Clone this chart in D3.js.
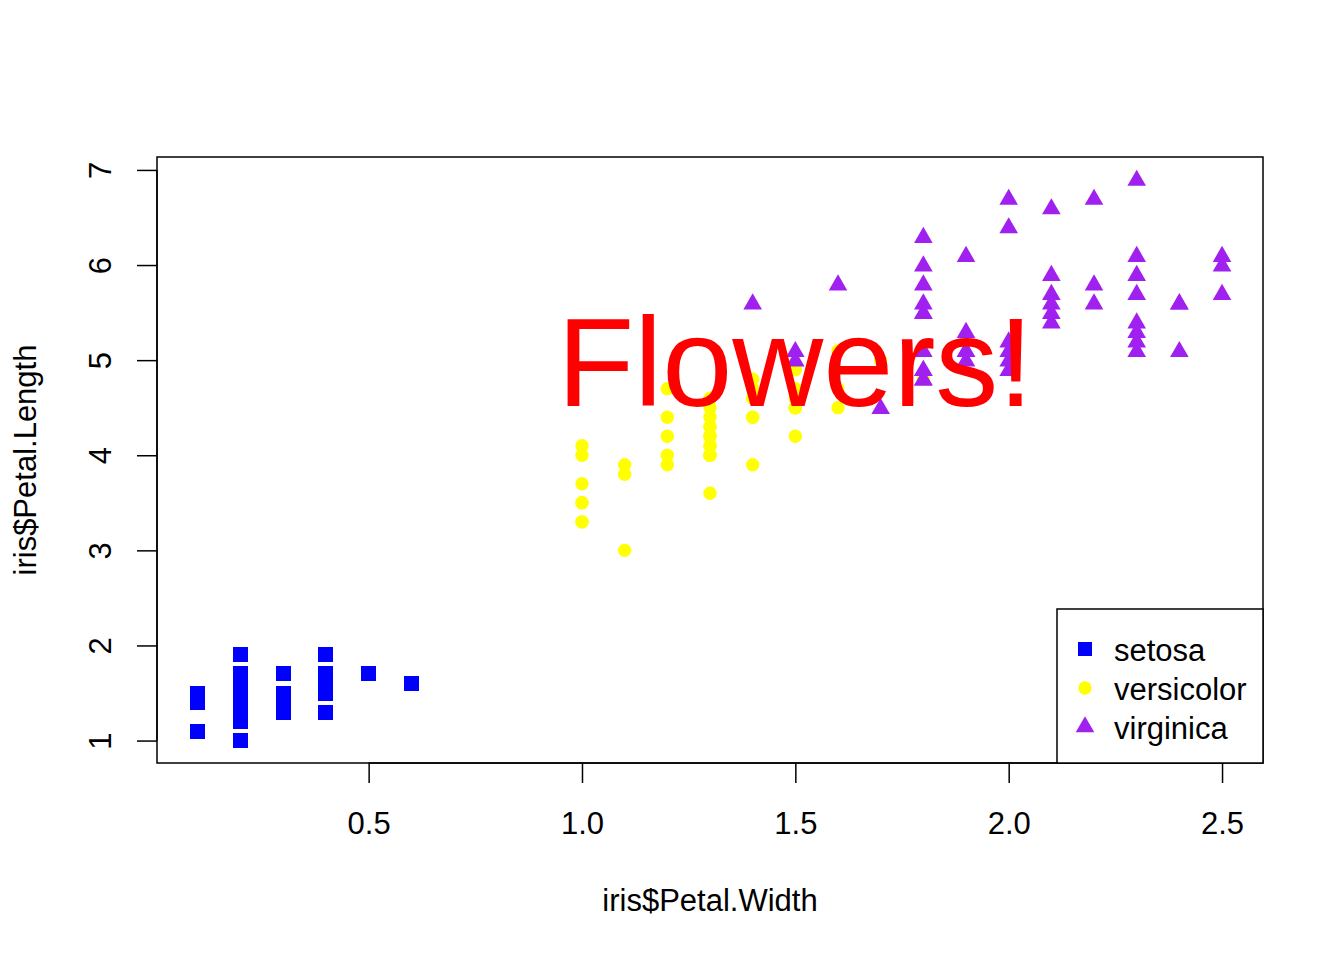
<!DOCTYPE html>
<html>
<head>
<meta charset="utf-8">
<script src="https://cdn.jsdelivr.net/npm/d3@7"></script>
<style>
  body { margin: 0; background: #fff; }
  text { font-family: "Liberation Sans", Arial, sans-serif; }
</style>
</head>
<body>
<div id="chart"></div>
<script>
// iris petal measurements, by species
const species = ['setosa', 'versicolor', 'virginica'];
const speciesColors = ['#0000FF', '#FFFF00', '#A020F0'];

const setosaLength = [1.4,1.4,1.3,1.5,1.4,1.7,1.4,1.5,1.4,1.5,1.5,1.6,1.4,1.1,1.2,1.5,1.3,1.4,1.7,1.5,1.7,1.5,1.0,1.7,1.9,1.6,1.6,1.5,1.4,1.6,1.6,1.5,1.5,1.4,1.5,1.2,1.3,1.4,1.3,1.5,1.3,1.3,1.3,1.6,1.9,1.4,1.6,1.4,1.5,1.4];
const setosaWidth = [0.2,0.2,0.2,0.2,0.2,0.4,0.3,0.2,0.2,0.1,0.2,0.2,0.1,0.1,0.2,0.4,0.4,0.3,0.3,0.3,0.2,0.4,0.2,0.5,0.2,0.2,0.4,0.2,0.2,0.2,0.2,0.4,0.1,0.2,0.2,0.2,0.2,0.1,0.2,0.2,0.3,0.3,0.2,0.6,0.4,0.3,0.2,0.2,0.2,0.2];

const versicolorLength = [4.7,4.5,4.9,4.0,4.6,4.5,4.7,3.3,4.6,3.9,3.5,4.2,4.0,4.7,3.6,4.4,4.5,4.1,4.5,3.9,4.8,4.0,4.9,4.7,4.3,4.4,4.8,5.0,4.5,3.5,3.8,3.7,3.9,5.1,4.5,4.5,4.7,4.4,4.1,4.0,4.4,4.6,4.0,3.3,4.2,4.2,4.2,4.3,3.0,4.1];
const versicolorWidth = [1.4,1.5,1.5,1.3,1.5,1.3,1.6,1.0,1.3,1.4,1.0,1.5,1.0,1.4,1.3,1.4,1.5,1.0,1.5,1.1,1.8,1.3,1.5,1.2,1.3,1.4,1.4,1.7,1.5,1.0,1.1,1.0,1.2,1.6,1.5,1.6,1.5,1.3,1.3,1.3,1.2,1.4,1.2,1.0,1.3,1.2,1.3,1.3,1.1,1.3];

const virginicaLength = [6.0,5.1,5.9,5.6,5.8,6.6,4.5,6.3,5.8,6.1,5.1,5.3,5.5,5.0,5.1,5.3,5.5,6.7,6.9,5.0,5.7,4.9,6.7,4.9,5.7,6.0,4.8,4.9,5.6,5.8,6.1,6.4,5.6,5.1,5.6,6.1,5.6,5.5,4.8,5.4,5.6,5.1,5.1,5.9,5.7,5.2,5.0,5.2,5.4,5.1];
const virginicaWidth = [2.5,1.9,2.1,1.8,2.2,2.1,1.7,1.8,1.8,2.5,2.0,1.9,2.1,2.0,2.4,2.3,1.8,2.2,2.3,1.5,2.3,2.0,2.0,1.8,2.1,1.8,1.8,1.8,2.1,1.6,1.9,2.0,2.2,1.5,1.4,2.3,2.4,1.8,1.8,2.1,2.4,2.3,1.9,2.3,2.5,2.3,1.9,2.0,2.3,1.8];

const xTicks = [0.5, 1.0, 1.5, 2.0, 2.5];
const yTicks = [1, 2, 3, 4, 5, 6, 7];

const W = 1344, H = 960;
const plot = { left: 157, right: 1263, top: 157, bottom: 763 };
const fontSize = 31;

const svg = d3.select('#chart').append('svg')
  .attr('width', W).attr('height', H);

// R-style 4% padding on the data range
const allW = [].concat(setosaWidth, versicolorWidth, virginicaWidth);
const allL = [].concat(setosaLength, versicolorLength, virginicaLength);
function padded(ext) {
  const p = (ext[1] - ext[0]) * 0.04;
  return [ext[0] - p, ext[1] + p];
}
const x = d3.scaleLinear().domain(padded(d3.extent(allW))).range([plot.left, plot.right]);
const y = d3.scaleLinear().domain(padded(d3.extent(allL))).range([plot.bottom, plot.top]);

const sym = [
  d3.symbol().type(d3.symbolSquare).size(225),
  d3.symbol().type(d3.symbolCircle).size(140),
  d3.symbol().type(d3.symbolTriangle).size(150),
];

const rows = [];
[[setosaWidth, setosaLength], [versicolorWidth, versicolorLength], [virginicaWidth, virginicaLength]]
  .forEach(([ws, ls], s) => ws.forEach((w, i) => rows.push({ w, l: ls[i], s })));

svg.append('g').selectAll('path')
  .data(rows)
  .join('path')
  .attr('transform', d => `translate(${x(d.w)},${y(d.l) + (d.s === 2 ? 1 : 0)})`)
  .attr('d', d => sym[d.s]())
  .attr('fill', d => speciesColors[d.s])
  .attr('shape-rendering', d => d.s === 0 ? 'crispEdges' : null);

// axes
const xAxis = svg.append('g').attr('transform', `translate(0,${plot.bottom})`)
  .call(d3.axisBottom(x).tickValues(xTicks).tickFormat(d3.format('.1f')).tickSize(20).tickPadding(29));
const yAxis = svg.append('g').attr('transform', `translate(${plot.left},0)`)
  .call(d3.axisLeft(y).tickValues(yTicks).tickFormat(d3.format('d')).tickSize(20));

[xAxis, yAxis].forEach(a => {
  a.select('.domain').remove();
  a.selectAll('line').attr('stroke', '#000').attr('stroke-width', 1.5);
  a.selectAll('text').attr('font-size', fontSize).attr('fill', '#000')
    .style('font-family', '"Liberation Sans", Arial, sans-serif');
});
// axis lines span only the tick range, like R
xAxis.append('line')
  .attr('x1', x(xTicks[0])).attr('x2', x(xTicks[xTicks.length - 1]))
  .attr('stroke', '#000').attr('stroke-width', 1.5);
yAxis.append('line')
  .attr('y1', y(yTicks[0])).attr('y2', y(yTicks[yTicks.length - 1]))
  .attr('stroke', '#000').attr('stroke-width', 1.5);
xAxis.selectAll('text').attr('dy', '0.7em');
yAxis.selectAll('.tick text')
  .attr('x', 0).attr('dy', 0)
  .attr('text-anchor', 'middle')
  .attr('transform', 'translate(-57,0) rotate(-90) translate(0,11)');

// plot box
svg.append('rect')
  .attr('x', plot.left).attr('y', plot.top)
  .attr('width', plot.right - plot.left).attr('height', plot.bottom - plot.top)
  .attr('fill', 'none').attr('stroke', '#000').attr('stroke-width', 1.5);

// axis titles
svg.append('text')
  .attr('x', (plot.left + plot.right) / 2).attr('y', 911)
  .attr('text-anchor', 'middle').attr('font-size', fontSize)
  .text('iris$Petal.Width');
svg.append('text')
  .attr('transform', `translate(36,${(plot.top + plot.bottom) / 2}) rotate(-90)`)
  .attr('text-anchor', 'middle').attr('font-size', fontSize)
  .text('iris$Petal.Length');

// legend, bottom right
const lg = svg.append('g');
lg.append('rect')
  .attr('x', 1057).attr('y', 609)
  .attr('width', plot.right - 1057).attr('height', plot.bottom - 609)
  .attr('fill', '#fff').attr('stroke', '#000').attr('stroke-width', 1.5);
species.forEach((name, i) => {
  const cy = 650 + i * 39;
  lg.append('path')
    .attr('transform', `translate(1085,${cy - 1})`)
    .attr('d', sym[i].size(i === 0 ? 196 : i === 1 ? 140 : 150)())
    .attr('fill', speciesColors[i]);
  lg.append('text')
    .attr('x', 1114).attr('y', cy).attr('dy', '0.35em')
    .attr('font-size', fontSize).text(name);
});
sym[0].size(225);

// big annotation
svg.append('text')
  .attr('x', x(1.5)).attr('y', y(5)).attr('dy', '0.36em')
  .attr('text-anchor', 'middle')
  .attr('font-size', 126)
  .attr('fill', '#FF0000')
  .text('Flowers!');
</script>
</body>
</html>
